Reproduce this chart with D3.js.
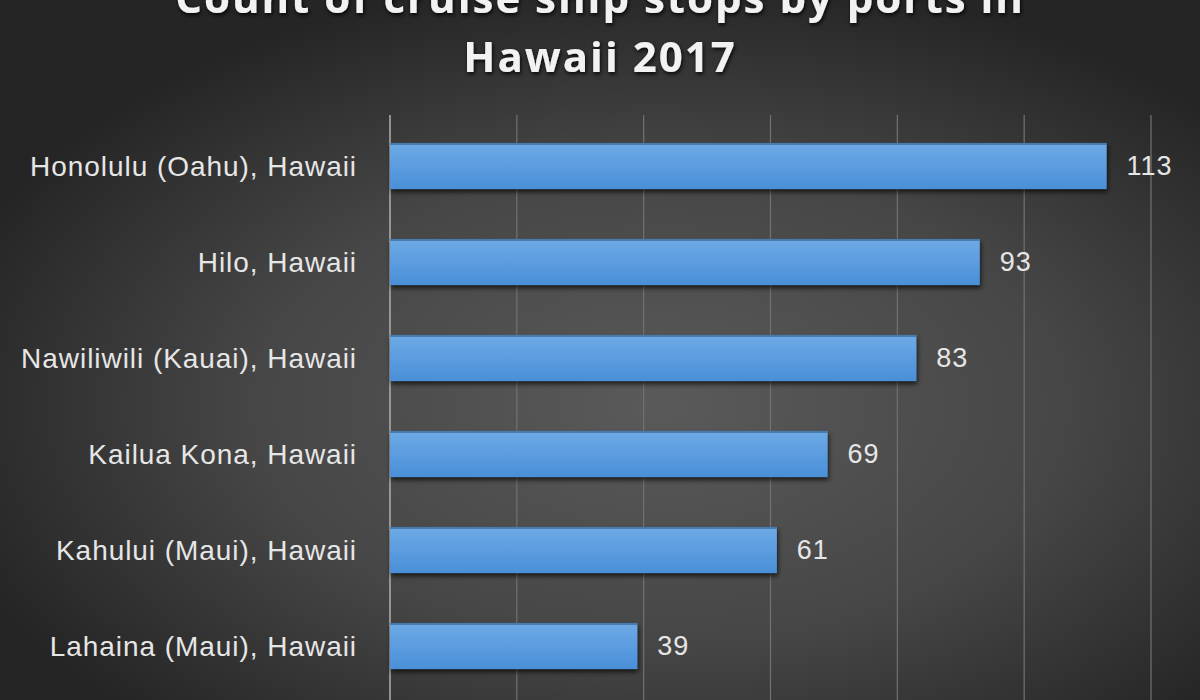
<!DOCTYPE html>
<html><head><meta charset="utf-8">
<script src="https://cdn.jsdelivr.net/npm/d3@7"></script>
<style>html,body{margin:0;padding:0;background:#333;}svg{display:block;}</style>
</head><body>
<script>
const categories = ["Honolulu (Oahu), Hawaii","Hilo, Hawaii","Nawiliwili (Kauai), Hawaii","Kailua Kona, Hawaii","Kahului (Maui), Hawaii","Lahaina (Maui), Hawaii"];
const values = [113, 93, 83, 69, 61, 39];
const tickValues = [0, 20, 40, 60, 80, 100, 120];
const titleLines = ["Count of cruise ship stops by ports in", "Hawaii 2017"];

const W = 1200, H = 700;
const svg = d3.select("body").append("svg").attr("width", W).attr("height", H);
const defs = svg.append("defs");

const bg = defs.append("radialGradient").attr("id","bg")
  .attr("cx","55%").attr("cy","58%").attr("r","62%");
bg.append("stop").attr("offset","0%").attr("stop-color","#5a5a5a");
bg.append("stop").attr("offset","55%").attr("stop-color","#464646");
bg.append("stop").attr("offset","100%").attr("stop-color","#252525");

const barG = defs.append("linearGradient").attr("id","barg").attr("x1",0).attr("y1",0).attr("x2",0).attr("y2",1);
barG.append("stop").attr("offset","0%").attr("stop-color","#6eaae6");
barG.append("stop").attr("offset","100%").attr("stop-color","#4a8fd8");

const sh = defs.append("filter").attr("id","shadow").attr("x","-5%").attr("y","-30%").attr("width","110%").attr("height","170%");
sh.append("feDropShadow").attr("dx",1).attr("dy",3).attr("stdDeviation",2.5).attr("flood-color","#000").attr("flood-opacity",0.7);

const tsh = defs.append("filter").attr("id","tshadow").attr("x","-10%").attr("y","-30%").attr("width","120%").attr("height","160%");
tsh.append("feDropShadow").attr("dx",1).attr("dy",2).attr("stdDeviation",2).attr("flood-color","#000").attr("flood-opacity",0.9);

svg.append("rect").attr("width",W).attr("height",H).attr("fill","url(#bg)");

const x = d3.scaleLinear().domain([0, 120]).range([390, 1151]);
const y = d3.scaleBand().domain(categories).range([118, 694]).paddingInner(0.52).paddingOuter(0.26);

// gridlines
svg.append("g").selectAll("line").data(tickValues.slice(1)).join("line")
  .attr("x1", d => x(d)).attr("x2", d => x(d))
  .attr("y1", 115).attr("y2", 700)
  .attr("stroke", "#727272").attr("stroke-width", 1.2);

// axis line
svg.append("line").attr("x1", x(0)).attr("x2", x(0)).attr("y1", 115).attr("y2", 700)
  .attr("stroke", "#b0b0b0").attr("stroke-width", 1.5);

// bars
const bars = svg.append("g");
bars.selectAll("rect.bar").data(values).join("rect").attr("class","bar")
  .attr("x", x(0)).attr("y", (d,i) => y(categories[i]))
  .attr("width", d => x(d) - x(0)).attr("height", y.bandwidth())
  .attr("fill", "url(#barg)").attr("filter","url(#shadow)");
bars.selectAll("rect.hl").data(values).join("rect").attr("class","hl")
  .attr("x", x(0)).attr("y", (d,i) => y(categories[i]))
  .attr("width", d => x(d) - x(0)).attr("height", 2)
  .attr("fill", "#3d6f9f").attr("opacity",0.8);

// category labels
svg.append("g").selectAll("text").data(categories).join("text")
  .attr("x", x(0) - 33).attr("y", d => y(d) + y.bandwidth()/2)
  .attr("text-anchor","end").attr("dominant-baseline","central")
  .attr("font-family","Liberation Sans, Arial, sans-serif").attr("font-size",28)
  .attr("letter-spacing","0.95px")
  .attr("fill","#e6e6e6").text(d => d);

// value labels
svg.append("g").selectAll("text").data(values).join("text")
  .attr("x", d => x(d) + 20).attr("y", (d,i) => y(categories[i]) + y.bandwidth()/2)
  .attr("dominant-baseline","central")
  .attr("font-family","Liberation Sans, Arial, sans-serif").attr("font-size",27)
  .attr("letter-spacing","1px")
  .attr("fill","#e6e6e6").text(d => d);

// title (first line is partly cut off at the top, as in the reference)
svg.append("g").selectAll("text").data(titleLines).join("text")
  .attr("x", 600).attr("y", (d,i) => 13 + i*59)
  .attr("text-anchor","middle")
  .attr("font-family","Open Sans, Liberation Sans, sans-serif").attr("font-weight","bold")
  .attr("font-size",42).attr("letter-spacing","2px")
  .attr("fill","#f2f2f2").attr("filter","url(#tshadow)").text(d => d);
</script>
</body></html>
